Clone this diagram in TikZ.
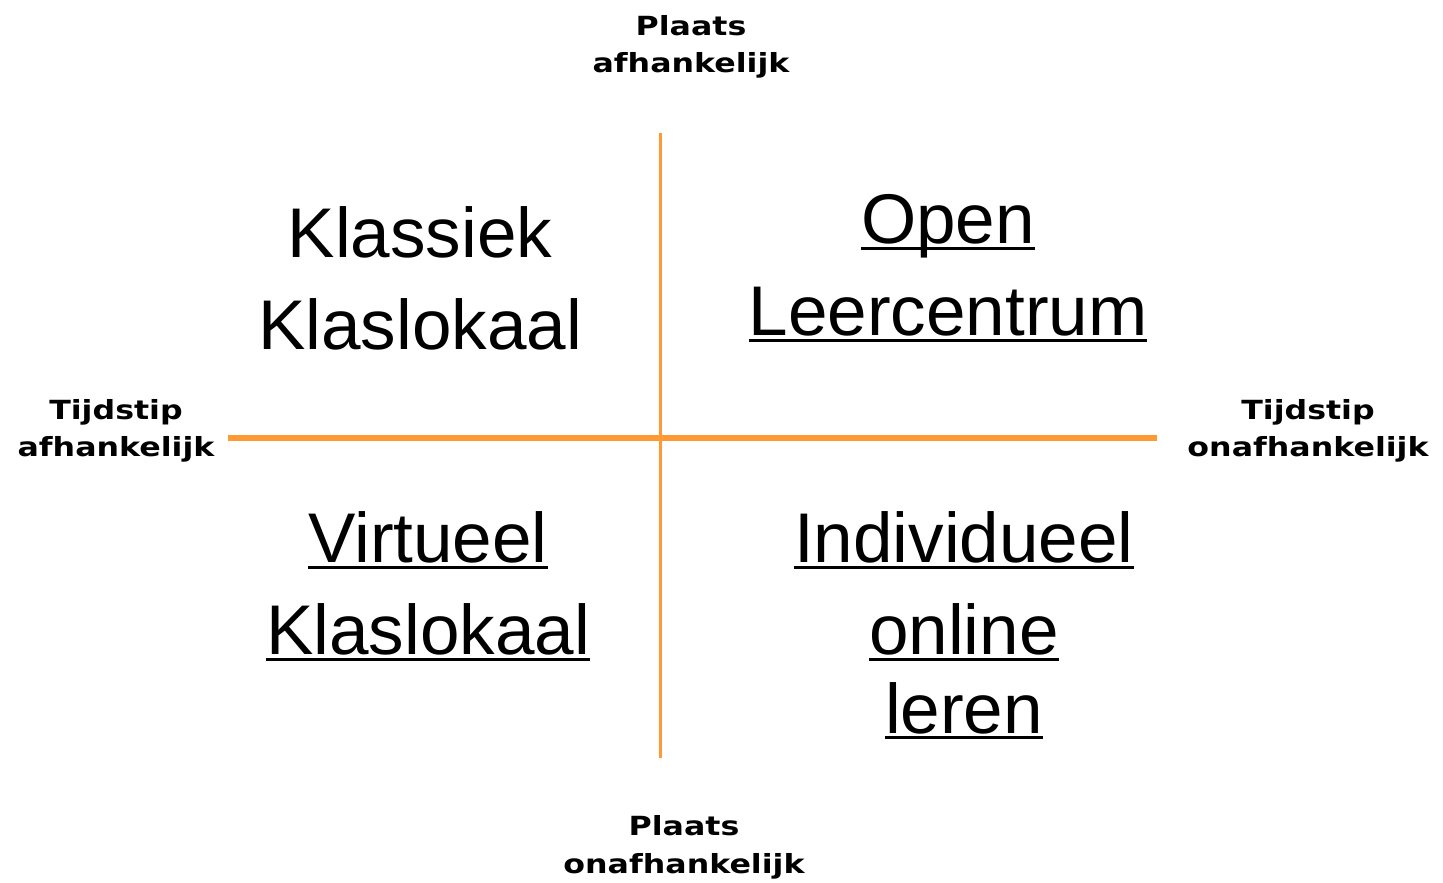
\documentclass[tikz,border=0pt]{standalone}
\usepackage{fontspec}
\setmainfont[FakeStretch=1.01]{Liberation Sans}
\newfontfamily\axfont[FakeStretch=1.2]{DejaVu Sans}
\definecolor{axorange}{RGB}{255,153,51}
\begin{document}
\begin{tikzpicture}[x=0.01cm,y=-0.01cm]
\useasboundingbox (0,0) rectangle (1443,883);
\tikzstyle{ax} = [draw=axorange] %axis line
\tikzstyle{lb} = [font=\axfont\bfseries\fontsize{7.5}{10.8}\selectfont,align=center,anchor=base,inner sep=0] %axis label
\tikzstyle{qd} = [font=\fontsize{20}{26}\selectfont,anchor=base,inner sep=0,outer sep=0] %quadrant text
\tikzstyle{ul} = [qd,append after command={([yshift=-1.4pt]\tikzlastnode.base west)
  edge[draw,line width=0.85pt] ([yshift=-1.4pt]\tikzlastnode.base east)}] %underlined
\coordinate(at)at(660,133);
\coordinate(ab)at(660,758);
\coordinate(al)at(228,438);
\coordinate(ar)at(1157,438);
\draw[ax,line width=0.85pt](at)--(ab);
\draw[ax,line width=1.7pt](al)--(ar);
\node[lb](pa)at(691,73){Plaats\\afhankelijk};
\node[lb](po)at(684,873){Plaats\\onafhankelijk};
\node[lb](ta)at(116,457){Tijdstip\\afhankelijk};
\node[lb](to)at(1308,457){Tijdstip\\onafhankelijk};
\node[qd](ka)at(420,258){Klassiek};
\node[qd](kb)at(420,350){Klaslokaal};
\node[ul](oa)at(948,244){Open};
\node[ul](ob)at(948,336){Leercentrum};
\node[ul](va)at(428,563){Virtueel};
\node[ul](vb)at(428,655){Klaslokaal};
\node[ul](ia)at(964,563){Individueel};
\node[ul](ib)at(964,655){online};
\node[ul](ic)at(964,733){leren};
\end{tikzpicture}
\end{document}
